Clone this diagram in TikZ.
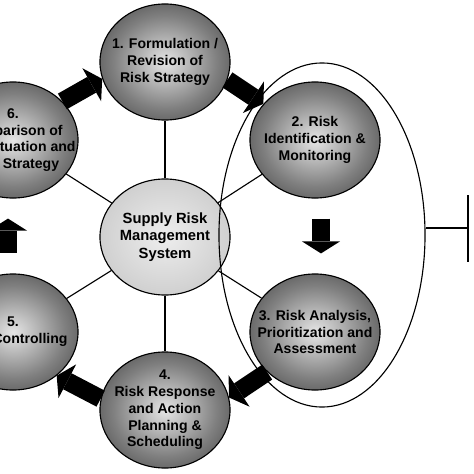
\documentclass[tikz,border=0pt]{standalone}
\usepackage{fontspec}
\setmainfont{Liberation Sans}
\usetikzlibrary{shapes.geometric,arrows.meta,calc}
\definecolor{stagelight}{gray}{0.9}
\definecolor{stagemid}{gray}{0.5}
\definecolor{stagedeep}{gray}{0.2}
\definecolor{stagedark}{gray}{0.03}
\definecolor{hublight}{gray}{0.93}
\definecolor{hubdark}{gray}{0.70}
\pgfdeclareradialshading{stageball}{\pgfpoint{0bp}{0bp}}{color(0bp)=(stagelight); color(20bp)=(stagemid); color(38bp)=(stagedeep); color(50bp)=(stagedark)}
\pgfdeclareradialshading{hubball}{\pgfpoint{0bp}{0bp}}{color(0bp)=(hublight); color(50bp)=(hubdark)}

\begin{document}
\begin{tikzpicture}[x=0.025cm, y=-0.025cm,
    stage/.style={ellipse, draw, line width=0.8pt, shading=stageball, minimum width=3.25cm, minimum height=2.9cm, inner sep=-0.5cm, align=center, font=\bfseries\fontsize{10}{11.9}\selectfont},
    hub/.style={stage, shading=hubball, font=\bfseries\fontsize{10.5}{12.4}\selectfont},
    spoke/.style={line width=0.8pt},
    blockarrow/.style={line width=0.45cm, -{Triangle[length=0.3cm, width=0.95cm, line width=0pt]}}
]
\useasboundingbox (0,0) rectangle (474,474);
\clip (0,0) rectangle (474,474);

% process stages round the hub
\node[stage] (c1) at (165,62) {1. Formulation /\\Revision of\\Risk Strategy};
\node[stage] (c2) at (315,140) {2. Risk\\Identification \&\\Monitoring};
\node[stage] (c3) at (315,332) {3. Risk Analysis,\\Prioritization and\\Assessment};
\node[stage] (c4) at (165,410) {4.\\Risk Response\\and Action\\Planning \&\\Scheduling};
\node[stage] (c5) at (13,332) {5.\\\hspace*{0.85cm}Controlling};
\node[stage] (c6) at (13,140) {6.\\Comparison of\\\hspace*{0.9cm}Situation and\\\hspace*{0.9cm}Strategy};
\node[hub] (hub) at (165,237) {Supply Risk\\Management\\System};

% spokes
\foreach \n in {c1,c2,c3,c4,c5,c6}
    \draw[spoke] (hub) -- (\n);

% ellipse round stages 2 and 3, with bracket
\node[ellipse, draw, line width=0.8pt, minimum width=5.15cm, minimum height=8.6cm] (assess) at (322,235) {};
\coordinate (brk) at (468,228);
\draw[line width=1pt] (assess.east |- brk) -- (brk);
\draw[line width=1pt] (brk) ++(0,-33) -- ++(0,67);

% block arrows between stages
\draw[blockarrow] (c1.-16) -- (c2.145);
\draw[blockarrow, shorten <=0.5cm, shorten >=0.5cm] ([xshift=0.15cm]c2.south) -- ([xshift=0.15cm]c3.north);
\draw[blockarrow] (c3.220) -- (c4.11);
\draw[blockarrow] (c4.170) -- (c5.-45);
\draw[blockarrow, shorten <=0.5cm, shorten >=0.5cm] ([xshift=-0.125cm]c5.north) -- ([xshift=-0.125cm]c6.south);
\draw[blockarrow] (c6.38) -- (c1.195);

\end{tikzpicture}
\end{document}
